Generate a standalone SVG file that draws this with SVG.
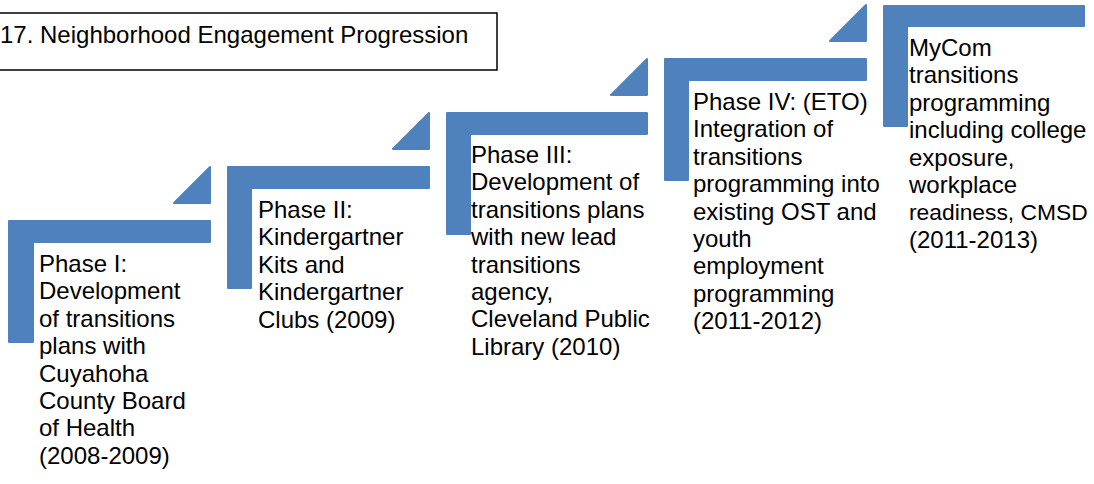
<svg xmlns="http://www.w3.org/2000/svg" width="1094" height="484" viewBox="0 0 1094 484">
<style>
.step{fill:#4F81BD;stroke:#4F81BD;stroke-width:2;stroke-linejoin:round}
.t{font-family:"Liberation Sans",Arial,sans-serif;font-size:24px;fill:#000}
.title{fill:#fff;stroke:#000;stroke-width:1.5}
</style>
<rect width="1094" height="484" fill="#fff"/>
<g id="title">
<rect class="title" x="-2" y="13" width="499" height="57"/>
<text class="t" x="0" y="43">17. Neighborhood Engagement Progression</text>
</g>
<g id="step1">
<path class="step" d="M9,221 H210 V242 H33 V342 H9 Z"/>
<path class="step" d="M174,203 L210,167 V203 Z"/>
<text class="t" x="39" y="272"><tspan x="39">Phase I:</tspan><tspan x="39" dy="27.4">Development</tspan><tspan x="39" dy="27.4">of transitions</tspan><tspan x="39" dy="27.4">plans with</tspan><tspan x="39" dy="27.4">Cuyahoha</tspan><tspan x="39" dy="27.4">County Board</tspan><tspan x="39" dy="27.4">of Health</tspan><tspan x="39" dy="27.4">(2008-2009)</tspan></text>
</g>
<g id="step2">
<path class="step" d="M228,167 H429 V188 H251 V288 H228 Z"/>
<path class="step" d="M393,149 L429,113 V149 Z"/>
<text class="t" x="258" y="218"><tspan x="258">Phase II:</tspan><tspan x="258" dy="27.4">Kindergartner</tspan><tspan x="258" dy="27.4">Kits and</tspan><tspan x="258" dy="27.4">Kindergartner</tspan><tspan x="258" dy="27.4">Clubs (2009)</tspan></text>
</g>
<g id="step3">
<path class="step" d="M447,113 H647 V134 H470 V234 H447 Z"/>
<path class="step" d="M611,95 L647,59 V95 Z"/>
<text class="t" x="471" y="163"><tspan x="471">Phase III:</tspan><tspan x="471" dy="27.4">Development of</tspan><tspan x="471" dy="27.4">transitions plans</tspan><tspan x="471" dy="27.4">with new lead</tspan><tspan x="471" dy="27.4">transitions</tspan><tspan x="471" dy="27.4">agency,</tspan><tspan x="471" dy="27.4">Cleveland Public</tspan><tspan x="471" dy="27.4">Library (2010)</tspan></text>
</g>
<g id="step4">
<path class="step" d="M665,59 H866 V80 H688 V180 H665 Z"/>
<path class="step" d="M830,41 L866,5 V41 Z"/>
<text class="t" x="693" y="110"><tspan x="693">Phase IV: (ETO)</tspan><tspan x="693" dy="27.4">Integration of</tspan><tspan x="693" dy="27.4">transitions</tspan><tspan x="693" dy="27.4">programming into</tspan><tspan x="693" dy="27.4">existing OST and</tspan><tspan x="693" dy="27.4">youth</tspan><tspan x="693" dy="27.4">employment</tspan><tspan x="693" dy="27.4">programming</tspan><tspan x="693" dy="27.4">(2011-2012)</tspan></text>
</g>
<g id="step5">
<path class="step" d="M884,6 H1084 V26 H907 V126 H884 Z"/>
<text class="t" x="909" y="56"><tspan x="909">MyCom</tspan><tspan x="909" dy="27.4">transitions</tspan><tspan x="909" dy="27.4">programming</tspan><tspan x="909" dy="27.4">including college</tspan><tspan x="909" dy="27.4">exposure,</tspan><tspan x="909" dy="27.4">workplace</tspan></text>
<text class="t" x="909" y="220.4" style="font-size:22.8px">readiness, CMSD</text>
<text class="t" x="909" y="247.8">(2011-2013)</text>
</g>
<g id="connectors"></g>
</svg>
